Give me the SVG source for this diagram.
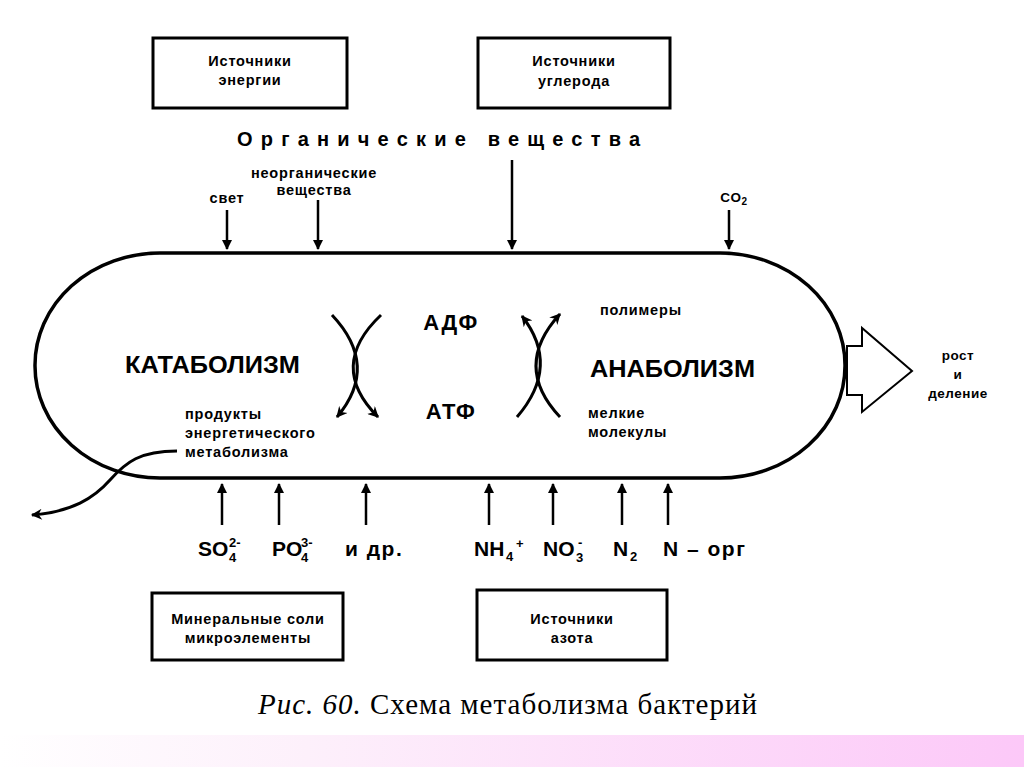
<svg xmlns="http://www.w3.org/2000/svg" width="1024" height="767" viewBox="0 0 1024 767">
<defs>
<linearGradient id="strip" x1="0" y1="0" x2="1" y2="0">
<stop offset="0" stop-color="#ffffff"/>
<stop offset="0.3" stop-color="#fdf0fb"/>
<stop offset="1" stop-color="#fcc8f8"/>
</linearGradient>
<marker id="ah" viewBox="0 0 10 10" refX="9" refY="5" markerWidth="10" markerHeight="10" markerUnits="userSpaceOnUse" orient="auto">
<path d="M0,0 L10,5 L0,10 z" fill="#000"/>
</marker>
<marker id="ah2" viewBox="0 0 10 10" refX="9" refY="5" markerWidth="12" markerHeight="11" markerUnits="userSpaceOnUse" orient="auto">
<path d="M0,0 L10,5 L0,10 L3,5 z" fill="#000"/>
</marker>
</defs>
<style>
text{font-family:"Liberation Sans",Arial,sans-serif;font-weight:bold;fill:#000}
.box{fill:#fff;stroke:#000;stroke-width:3}
.sm{font-size:14.5px;letter-spacing:0.8px}
.tiny{font-size:13.5px;letter-spacing:0.5px}
.lbl{font-size:21px;letter-spacing:1.5px}
.mid{font-size:22px;letter-spacing:1.5px}
.ion{font-size:21px}
.sub{font-size:13px}
.ln{stroke:#000;stroke-width:2.5;fill:none}
.cv{stroke:#000;stroke-width:3;fill:none}
.cap{font-family:"Liberation Serif","Times New Roman",serif;font-weight:normal;font-size:29px}
</style>
<rect x="0" y="0" width="1024" height="767" fill="#fff"/>
<rect x="0" y="735" width="1024" height="32" fill="url(#strip)"/>

<g id="cell">
<rect x="35" y="253" width="810" height="225" rx="125" ry="112" fill="#fff" stroke="#000" stroke-width="3.5"/>
</g>

<g id="box-energy">
<rect class="box" x="153" y="38" width="194" height="70"/>
<text class="sm" x="250" y="66" text-anchor="middle">Источники</text>
<text class="sm" x="250" y="85" text-anchor="middle">энергии</text>
</g>
<g id="box-carbon">
<rect class="box" x="478" y="38" width="192" height="70"/>
<text class="sm" x="574" y="66" text-anchor="middle">Источники</text>
<text class="sm" x="574" y="86" text-anchor="middle">углерода</text>
</g>
<g id="box-minerals">
<rect class="box" x="152" y="593" width="191" height="67"/>
<text class="sm" x="248" y="624" text-anchor="middle">Минеральные соли</text>
<text class="sm" x="248" y="643" text-anchor="middle">микроэлементы</text>
</g>
<g id="box-nitrogen">
<rect class="box" x="477" y="590" width="190" height="70"/>
<text class="sm" x="572" y="624" text-anchor="middle">Источники</text>
<text class="sm" x="572" y="643" text-anchor="middle">азота</text>
</g>

<g id="organic">
<text x="237" y="146" font-size="20" textLength="403" lengthAdjust="spacing">Органические вещества</text>
</g>
<g id="top-labels">
<text class="sm" x="227" y="203" text-anchor="middle">свет</text>
<text class="sm" x="314" y="178" text-anchor="middle">неорганические</text>
<text class="sm" x="314" y="195" text-anchor="middle">вещества</text>
<text class="tiny" x="734" y="202" text-anchor="middle">CO<tspan font-size="10" dy="3">2</tspan></text>
</g>

<g id="connectors">
<line class="ln" x1="227" y1="210" x2="227" y2="249" marker-end="url(#ah)"/>
<line class="ln" x1="318" y1="200" x2="318" y2="249" marker-end="url(#ah)"/>
<line class="ln" x1="512" y1="160" x2="512" y2="249" marker-end="url(#ah)"/>
<line class="ln" x1="729" y1="210" x2="729" y2="249" marker-end="url(#ah)"/>
<line class="ln" x1="222" y1="525" x2="222" y2="484" marker-end="url(#ah)"/>
<line class="ln" x1="279" y1="525" x2="279" y2="484" marker-end="url(#ah)"/>
<line class="ln" x1="366" y1="525" x2="366" y2="484" marker-end="url(#ah)"/>
<line class="ln" x1="489" y1="525" x2="489" y2="484" marker-end="url(#ah)"/>
<line class="ln" x1="553" y1="525" x2="553" y2="484" marker-end="url(#ah)"/>
<line class="ln" x1="622" y1="525" x2="622" y2="484" marker-end="url(#ah)"/>
<line class="ln" x1="668" y1="525" x2="668" y2="484" marker-end="url(#ah)"/>
<path class="cv" d="M332,315 Q380,366 337,417" marker-end="url(#ah2)"/>
<path class="cv" d="M381,315 Q327,366 378,417" marker-end="url(#ah2)"/>
<path class="cv" d="M517,417 Q561,366 522,316" marker-end="url(#ah2)"/>
<path class="cv" d="M560,417 Q512,366 560,314" marker-end="url(#ah2)"/>
<path class="cv" d="M177,451 C140,451 126,462 110,480 C94,498 72,512 32,515" marker-end="url(#ah2)"/>
<polygon points="847,346 862,346 862,328 912,371 862,412 862,395 847,395" fill="#fff" stroke="#000" stroke-width="2"/>
</g>

<g id="labels">
<text x="125" y="373" font-size="23" textLength="175" lengthAdjust="spacingAndGlyphs">КАТАБОЛИЗМ</text>
<text x="590" y="377" font-size="24" textLength="165" lengthAdjust="spacingAndGlyphs">АНАБОЛИЗМ</text>
<text class="mid" x="451" y="330" text-anchor="middle">АДФ</text>
<text class="mid" x="451" y="419" text-anchor="middle">АТФ</text>
<text class="sm" x="600" y="315">полимеры</text>
<text class="sm" x="588" y="418">мелкие</text>
<text class="sm" x="588" y="437">молекулы</text>
<text class="sm" x="185" y="419">продукты</text>
<text class="sm" x="185" y="438">энергетического</text>
<text class="sm" x="185" y="457">метаболизма</text>
<text class="tiny" x="958" y="360" text-anchor="middle">рост</text>
<text class="tiny" x="958" y="379" text-anchor="middle">и</text>
<text class="tiny" x="958" y="398" text-anchor="middle">деление</text>
</g>

<g id="ions">
<text class="ion" x="198" y="556">SO<tspan class="sub" x="229" dy="-9">2-</tspan><tspan class="sub" x="229" dy="15">4</tspan></text>
<text class="ion" x="272" y="556">PO<tspan class="sub" x="301" dy="-9">3-</tspan><tspan class="sub" x="301" dy="15">4</tspan></text>
<text class="lbl" x="345" y="556">и др.</text>
<text class="ion" x="474" y="556">NH<tspan class="sub" x="506" dy="5">4</tspan><tspan class="sub" x="516" dy="-13">+</tspan></text>
<text class="ion" x="543" y="556">NO<tspan class="sub" x="578" dy="-9">-</tspan><tspan class="sub" x="576" dy="15">3</tspan></text>
<text class="ion" x="613" y="556">N<tspan class="sub" x="630" dy="5">2</tspan></text>
<text class="lbl" x="663" y="556">N – орг</text>
</g>

<g id="caption">
<text class="cap" x="258" y="714" textLength="499" lengthAdjust="spacing"><tspan font-style="italic">Рис. 60.</tspan> Схема метаболизма бактерий</text>
</g>
</svg>
